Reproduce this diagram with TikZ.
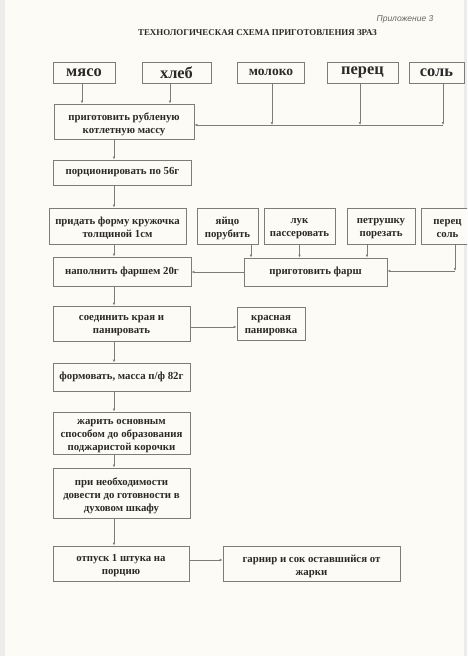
\documentclass[tikz,border=0pt]{standalone}
\usepackage{fontspec}
\setmainfont{Liberation Serif}
\newfontfamily\handfont{Liberation Sans}
\usetikzlibrary{arrows.meta}
\definecolor{paper}{HTML}{FCFBF5}
\definecolor{ink}{HTML}{2A2A2A}
\definecolor{edge}{HTML}{7C7C7C}
\definecolor{strip}{HTML}{ECECEA}
\begin{document}
\begin{tikzpicture}[x=1pt,y=-1pt,
  box/.style={draw=edge, line width=0.8pt, text=ink, fill=paper, align=center,
    inner sep=0pt, font=\bfseries\fontsize{10.8}{13}\selectfont},
  txt/.style={text=ink, align=center, inner sep=0pt, font=\bfseries\fontsize{10.8}{13}\selectfont},
  big/.style={font=\bfseries\fontsize{16.4}{17}\selectfont},
  mid/.style={font=\bfseries\fontsize{13.5}{14}\selectfont},
  conn/.style={draw=edge, line width=0.7pt, -{Latex[length=3pt,width=2.6pt]}}]
\useasboundingbox (0,0) rectangle (467,656);
\clip (0,0) rectangle (467,656);
\fill[paper] (0,0) rectangle (467,656);
\fill[strip] (0,0) rectangle (5,656);
\fill[strip] (464,0) rectangle (467,656);

% header
\node[text=gray!80!black, font=\handfont\itshape\fontsize{8.5}{9}\selectfont] (app) at (405,19) {Приложение 3};
\node[text=ink, font=\bfseries\fontsize{8.9}{9.5}\selectfont] (title) at (257.5,33) {ТЕХНОЛОГИЧЕСКАЯ СХЕМА ПРИГОТОВЛЕНИЯ ЗРАЗ};

% top row
\node[box, big, minimum width=62pt, minimum height=21pt] (myaso) at (84,72.5) {мясо};
\node[box, big, minimum width=69pt, minimum height=21pt] (hleb) at (176.5,72.5) {хлеб};
\node[box, mid, minimum width=67pt, minimum height=21pt] (moloko) at (271,72.5) {молоко};
\node[box, big, minimum width=71pt, minimum height=21pt] (perec) at (362.5,72.5) {перец};
\node[box, big, minimum width=55pt, minimum height=21pt] (sol) at (436.5,72.5) {соль};

% boxes (multi-line texts are placed separately below)
\node[box, minimum width=140pt, minimum height=35pt] (prep) at (124,121.5) {};
\node[box, minimum width=138pt, minimum height=25pt] (portion) at (122.5,172.5) {порционировать по 56г};
\node[box, minimum width=137pt, minimum height=36pt] (pridat) at (117.5,226) {};
\node[box, minimum width=61pt, minimum height=36pt] (yaico) at (227.5,226) {};
\node[box, minimum width=71pt, minimum height=36pt] (luk) at (299.5,226) {};
\node[box, minimum width=68pt, minimum height=36pt] (petr) at (381,226) {};
\node[box, minimum width=55pt, minimum height=36pt] (perecsol) at (448.5,226) {};
\node[box, minimum width=138pt, minimum height=29pt] (napoln) at (122,271.5) {наполнить фаршем 20г};
\node[box, minimum width=143pt, minimum height=28pt] (farsh) at (315.5,272) {приготовить фарш};
\node[box, minimum width=137pt, minimum height=35pt] (soed) at (121.5,323.5) {};
\node[box, minimum width=68pt, minimum height=33pt] (krasn) at (271,323.5) {};
\node[box, minimum width=137pt, minimum height=28pt] (form) at (121.5,377) {формовать, масса п/ф 82г};
\node[box, minimum width=137pt, minimum height=42pt] (zharit) at (121.5,433) {};
\node[box, minimum width=137pt, minimum height=50pt] (pri) at (121.5,493) {};
\node[box, minimum width=136pt, minimum height=35pt] (otpusk) at (121,563.5) {};
\node[box, minimum width=177pt, minimum height=35pt] (garnir) at (311.5,563.5) {};

% multi-line texts
\node[txt] (prep-t) at ([yshift=-2.5pt]prep.center) {приготовить рубленую\\котлетную массу};
\node[txt] (pridat-t) at ([yshift=-2.5pt]pridat.center) {придать форму кружочка\\толщиной 1см};
\node[txt] (yaico-t) at ([yshift=-2.5pt]yaico.center) {яйцо\\порубить};
\node[txt] (luk-t) at ([yshift=-2.5pt]luk.center) {лук\\пассеровать};
\node[txt] (petr-t) at ([yshift=-2.5pt]petr.center) {петрушку\\порезать};
\node[txt] (perecsol-t) at ([xshift=-1pt,yshift=-2.5pt]perecsol.center) {перец\\соль};
\node[txt] (soed-t) at ([yshift=-2.5pt]soed.center) {соединить края и\\панировать};
\node[txt] (krasn-t) at ([yshift=-2.5pt]krasn.center) {красная\\панировка};
\node[txt] (zharit-t) at ([yshift=-3pt]zharit.center) {жарить основным\\способом до образования\\поджаристой корочки};
\node[txt] (pri-t) at ([yshift=-3pt]pri.center) {при необходимости\\довести до готовности в\\духовом шкафу};
\node[txt] (otpusk-t) at ([yshift=-2.5pt]otpusk.center) {отпуск 1 штука на\\порцию};
\node[txt] (garnir-t) at ([yshift=-2.5pt]garnir.center) {гарнир и сок оставшийся от\\жарки};

% connectors: top
\draw[conn] ([xshift=-2pt]myaso.south) -- ([xshift=-2pt]myaso.south |- prep.north);
\draw[conn] ([xshift=-6.5pt]hleb.south) -- ([xshift=-6.5pt]hleb.south |- prep.north);
\coordinate (b1) at (272,125);
\coordinate (b2) at (360,125);
\coordinate (b3) at (443,125);
\draw[conn] (moloko.south -| b1) -- (b1);
\draw[conn] (perec.south -| b2) -- (b2);
\draw[conn] (sol.south -| b3) -- (b3);
\draw[conn] (b3) -- (b3 -| prep.east);

% main column arrows
\coordinate (col) at (114,0);
\draw[conn] (col |- prep.south) -- (col |- portion.north);
\draw[conn] (col |- portion.south) -- (col |- pridat.north);
\draw[conn] (col |- pridat.south) -- (col |- napoln.north);
\draw[conn] (col |- napoln.south) -- (col |- soed.north);
\draw[conn] (col |- soed.south) -- (col |- form.north);
\draw[conn] (col |- form.south) -- (col |- zharit.north);
\draw[conn] (col |- zharit.south) -- (col |- pri.north);
\draw[conn] (col |- pri.south) -- (col |- otpusk.north);

% filling
\draw[conn] ([xshift=23.5pt]yaico.south) -- ([xshift=23.5pt]yaico.south |- farsh.north);
\draw[conn] (luk.south) -- (luk.south |- farsh.north);
\draw[conn] ([xshift=-14pt]petr.south) -- ([xshift=-14pt]petr.south |- farsh.north);
\coordinate (ps) at (455,271);
\draw[conn] (perecsol.south -| ps) -- (ps);
\draw[conn] (ps) -- (ps -| farsh.east);
\draw[conn] (farsh.west) -- (farsh.west -| napoln.east);

% side branches
\draw[conn] (soed.east |- 0,327) -- (krasn.west |- 0,327);
\draw[conn] (otpusk.east |- 0,560) -- (garnir.west |- 0,560);
\end{tikzpicture}
\end{document}
